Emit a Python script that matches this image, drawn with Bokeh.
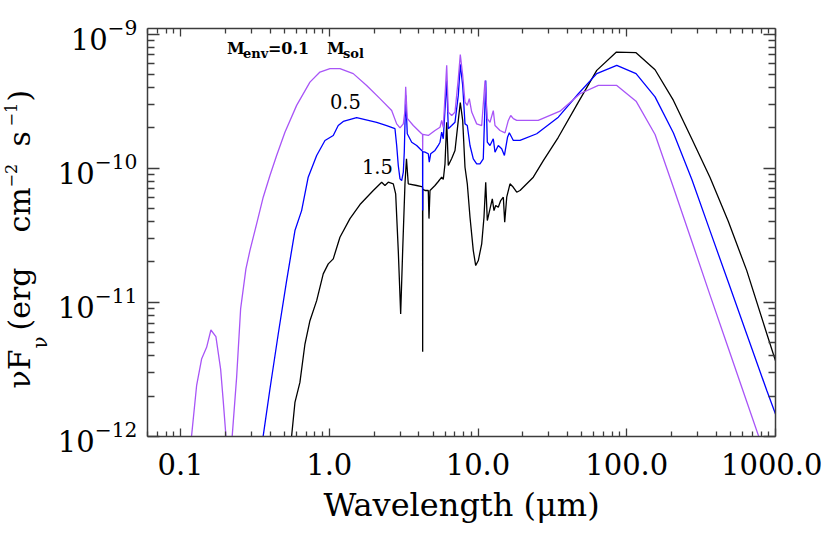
import math
from bokeh.plotting import figure
from bokeh.layouts import row
from bokeh.models import (LogAxis, FixedTicker, PrintfTickFormatter, CustomJSTickFormatter,
                          LogTickFormatter, Label, Range1d)
from bokeh.embed import file_html
from bokeh.resources import INLINE

# ---------------- data ----------------
# wavelength in micron, nu*F_nu in erg cm^-2 s^-1
purple_wl = [0.115, 0.1187, 0.1283, 0.1386, 0.1498, 0.1601, 0.1730, 0.1861, 0.1937, 0.2020,
             0.208, 0.217, 0.2227, 0.2384, 0.2536, 0.2753, 0.2928, 0.3249, 0.3598, 0.3993,
             0.4428, 0.5036, 0.6036, 0.7416, 0.8659, 1.011, 1.180, 1.450, 1.784, 2.193,
             2.628, 2.840, 2.989, 3.147, 3.229, 3.265, 3.346, 3.672, 4.182, 4.240,
             4.247, 4.255, 4.632, 5.138, 5.553, 5.701, 5.843, 6.160, 6.314, 6.655,
             7.004, 7.371, 7.603, 7.890, 8.177, 8.473, 8.741, 9.071, 9.800, 10.59,
             11.15, 11.55, 12.04, 12.67, 13.01, 14.06, 15.19, 15.99, 16.60, 17.28,
             18.21, 19.16, 25.4, 35.6, 48.5, 64.4, 85.7, 115.5, 155.0, 206.0,
             274.0, 363.0, 482.0, 641.0, 874.0, 1000.0]
purple_f = [7.0e-13, 1.01e-12, 2.39e-12, 3.78e-12, 4.62e-12, 6.22e-12, 5.55e-12, 3.18e-12, 1.85e-12, 1.01e-12,
            6.0e-13, 6.0e-13, 1.01e-12, 2.76e-12, 8.93e-12, 1.775e-11, 2.43e-11, 3.85e-11, 6.08e-11, 8.82e-11,
            1.244e-10, 1.856e-10, 2.94e-10, 4.38e-10, 5.21e-10, 5.52e-10, 5.52e-10, 5.07e-10, 4.14e-10, 3.30e-10,
            2.69e-10, 2.14e-10, 2.00e-10, 2.14e-10, 2.69e-10, 4.04e-10, 2.35e-10, 2.08e-10, 1.806e-10, 1.79e-10,
            1.36e-10, 1.79e-10, 1.754e-10, 1.91e-10, 2.02e-10, 2.27e-10, 2.02e-10, 5.84e-10, 2.62e-10, 2.47e-10,
            2.62e-10, 4.65e-10, 7.02e-10, 4.92e-10, 3.11e-10, 2.94e-10, 3.30e-10, 2.62e-10, 2.14e-10, 2.08e-10,
            4.51e-10, 2.34e-10, 2.20e-10, 2.69e-10, 2.08e-10, 1.91e-10, 1.836e-10, 2.27e-10, 2.47e-10, 2.34e-10,
            2.27e-10, 2.27e-10, 2.27e-10, 2.66e-10, 3.59e-10, 4.14e-10, 4.14e-10, 3.16e-10, 1.784e-10, 7.18e-11,
            2.84e-11, 1.132e-11, 4.55e-12, 1.815e-12, 6.70e-13, 4.44e-13]

blue_wl = [0.342, 0.3598, 0.3993, 0.4540, 0.517, 0.588, 0.652, 0.722, 0.823, 0.936,
           1.064, 1.149, 1.242, 1.528, 2.084, 2.432, 2.766, 2.840, 2.911, 2.989,
           3.069, 3.147, 3.194, 3.265, 3.346, 3.583, 3.870, 4.182, 4.240, 4.247,
           4.255, 4.402, 4.632, 4.704, 4.807, 5.138, 5.408, 5.553, 5.701, 5.843,
           6.160, 6.314, 6.655, 7.004, 7.371, 7.603, 7.890, 8.177, 8.473, 8.836,
           9.298, 9.800, 10.31, 10.85, 11.27, 11.55, 12.04, 12.67, 13.01, 13.69,
           14.43, 15.05, 15.79, 16.24, 17.28, 19.16, 24.82, 34.67, 47.27, 62.85,
           85.67, 115.5, 155.0, 206.0, 274.0, 363.0, 482.0, 641.0, 874.0, 1000.0]
blue_f = [7.0e-13, 1.01e-12, 2.26e-12, 5.81e-12, 1.452e-11, 3.43e-11, 4.83e-11, 8.57e-11, 1.244e-10, 1.61e-10,
          1.754e-10, 2.08e-10, 2.23e-10, 2.38e-10, 2.20e-10, 2.08e-10, 1.97e-10, 1.477e-10, 1.047e-10, 8.33e-11,
          8.09e-11, 9.33e-11, 1.316e-10, 3.49e-10, 1.806e-10, 1.563e-10, 1.477e-10, 1.356e-10, 1.34e-10, 4.83e-11,
          1.33e-10, 1.316e-10, 1.281e-10, 1.109e-10, 1.281e-10, 1.356e-10, 1.477e-10, 1.563e-10, 1.856e-10, 1.657e-10,
          4.51e-10, 1.97e-10, 2.08e-10, 2.20e-10, 3.49e-10, 5.94e-10, 4.14e-10, 2.14e-10, 2.08e-10, 1.477e-10,
          1.175e-10, 1.078e-10, 1.078e-10, 1.175e-10, 4.51e-10, 1.563e-10, 1.477e-10, 1.657e-10, 1.316e-10, 1.477e-10,
          1.396e-10, 1.244e-10, 1.70e-10, 1.836e-10, 1.61e-10, 1.61e-10, 1.806e-10, 2.40e-10, 3.59e-10, 5.07e-10,
          5.84e-10, 5.07e-10, 3.40e-10, 1.83e-10, 8.24e-11, 3.41e-11, 1.41e-11, 5.79e-12, 2.20e-12, 1.47e-12]

black_wl = [0.540, 0.5586, 0.588, 0.635, 0.6865, 0.7416, 0.823, 0.911, 0.985, 1.064,
            1.180, 1.378, 1.609, 1.977, 2.251, 2.369, 2.494, 2.695, 2.796, 2.911,
            3.021, 3.116, 3.229, 3.305, 3.398, 3.870, 4.182, 4.240, 4.247, 4.255,
            4.402, 4.632, 4.683, 4.756, 5.138, 5.408, 5.701, 5.843, 6.000, 6.160,
            6.314, 6.655, 7.004, 7.371, 7.603, 7.890, 8.177, 8.473, 8.836, 9.298,
            9.650, 10.05, 10.59, 10.97, 11.27, 11.55, 12.04, 12.48, 12.81, 13.15,
            13.69, 14.21, 14.80, 15.12, 15.60, 16.41, 17.28, 18.21, 19.16, 23.54,
            27.49, 34.67, 47.27, 62.85, 85.25, 115.5, 155.0, 206.0, 274.0, 363.0,
            482.0, 641.0, 874.0, 1000.0]
black_f = [7.0e-13, 1.01e-12, 1.794e-12, 2.53e-12, 4.89e-12, 7.30e-12, 1.03e-11, 1.63e-11, 1.935e-11, 2.11e-11,
           3.06e-11, 4.21e-11, 5.36e-11, 6.82e-11, 7.86e-11, 7.43e-11, 7.86e-11, 7.65e-11, 6.44e-11, 2.43e-11,
           8.19e-12, 2.43e-11, 7.65e-11, 1.175e-10, 7.65e-11, 7.43e-11, 7.30e-11, 7.2e-11, 4.29e-12, 7.0e-11,
           6.82e-11, 6.82e-11, 4.21e-11, 6.82e-11, 7.43e-11, 7.96e-11, 8.57e-11, 8.24e-11, 1.078e-10, 2.2e-10,
           1.047e-10, 1.18e-10, 1.356e-10, 2.27e-10, 3.08e-10, 2.27e-10, 1.017e-10, 7.65e-11, 4.31e-11, 2.43e-11,
           1.88e-11, 2.05e-11, 2.73e-11, 4.31e-11, 7.86e-11, 4.07e-11, 4.98e-11, 5.91e-11, 4.83e-11, 5.27e-11,
           5.12e-11, 5.74e-11, 6.08e-11, 3.95e-11, 6.08e-11, 7.65e-11, 7.21e-11, 6.62e-11, 6.82e-11, 8.57e-11,
           1.14e-10, 1.70e-10, 3.11e-10, 5.36e-10, 7.34e-10, 7.26e-10, 5.42e-10, 3.20e-10, 1.65e-10, 8.52e-11,
           4.00e-11, 1.724e-11, 5.84e-12, 3.67e-12]

x_major = [0.1, 1.0, 10.0, 100.0, 1000.0]
y_major = [1e-12, 1e-11, 1e-10, 1e-9]
curve_labels = ["0.5", "1.5"]

FONT = "DejaVu Serif"
AXC = "#3c3c3c"
TW = 50  # width of the strip holding the rotated y title
FH, BT, BB = 408, 28, 109

x_minor = [m * 10.0 ** e for e in range(-2, 3) for m in range(2, 10) if 0.06 <= m * 10.0 ** e <= 1000]
y_minor = [m * 10.0 ** e for e in range(-12, -9) for m in range(2, 10)]

p = figure(x_axis_type="log", y_axis_type="log",
           x_range=Range1d(0.06, 1000), y_range=Range1d(1e-12, 1.1e-9),
           frame_width=628, frame_height=FH,
           min_border_left=147 - TW, min_border_right=47, min_border_top=BT, min_border_bottom=BB,
           output_backend="svg", toolbar_location=None)
p.xgrid.visible = False
p.ygrid.visible = False
p.outline_line_color = None
p.background_fill_color = "white"
p.border_fill_color = "white"

xt = FixedTicker(ticks=x_major, minor_ticks=x_minor)
yt = FixedTicker(ticks=y_major, minor_ticks=y_minor)


def style(ax, horizontal):
    ax.axis_line_color = AXC
    ax.axis_line_width = 1.5
    ax.major_tick_line_color = AXC
    ax.minor_tick_line_color = AXC
    ax.major_tick_line_width = 1.3
    ax.minor_tick_line_width = 1.3
    ax.major_tick_out = 0
    ax.minor_tick_out = 0
    if horizontal:
        ax.major_tick_in = 8
        ax.minor_tick_in = 5
    else:
        ax.major_tick_in = 12
        ax.minor_tick_in = 7


bx = p.xaxis[0]
bx.ticker = xt
bx.formatter = PrintfTickFormatter(format="%.1f")
style(bx, True)
bx.major_label_text_font = FONT
bx.major_label_text_font_size = "29px"
bx.major_label_text_color = "black"
bx.major_label_standoff = 16
bx.axis_label = "Wavelength (μm)"
bx.axis_label_text_font = FONT
bx.axis_label_text_font_size = "32px"
bx.axis_label_text_font_style = "normal"
bx.axis_label_text_color = "black"
bx.axis_label_standoff = 8

ly = p.yaxis[0]
ly.ticker = yt
ly.formatter = LogTickFormatter()
style(ly, False)
ly.major_label_text_font = FONT
ly.major_label_text_font_size = "29px"
ly.major_label_text_color = "black"
ly.major_label_standoff = 10

blank = CustomJSTickFormatter(code="return ''")
top = LogAxis(ticker=xt, formatter=blank, major_label_text_font_size="0px", major_label_standoff=0)
style(top, True)
right = LogAxis(ticker=yt, formatter=blank, major_label_text_font_size="0px", major_label_standoff=0)
style(right, False)
p.add_layout(top, "above")
p.add_layout(right, "right")

# curves
p.line(black_wl, black_f, line_color="black", line_width=1.3)
p.line(blue_wl, blue_f, line_color="#0000ff", line_width=1.3)
p.line(purple_wl, purple_f, line_color="#a855f7", line_width=1.3)


def lab(fig, x, y, text, size, xo=0, yo=0, bold=False, angle=0.0, units="data"):
    fig.add_layout(Label(x=x, y=y, x_units=units, y_units=units, text=text,
                         x_offset=xo, y_offset=yo, angle=angle,
                         text_font=FONT, text_font_size=size, text_color="black",
                         text_font_style="bold" if bold else "normal",
                         text_align="left", text_baseline="alphabetic"))


lab(p, 1.011, 2.79e-10, curve_labels[0], "19.5px", 0, 7)
lab(p, 1.659, 8.97e-11, curve_labels[1], "19.5px", 0, 8)

mx, my = 0.2051, 7.06e-10
lab(p, mx, my, "M", "16px", 0, 6, True)
lab(p, mx, my, "env", "13px", 16, 1, True)
lab(p, mx, my, "=0.1", "16px", 41, 6, True)
lab(p, mx, my, "M", "16px", 100, 6, True)
lab(p, mx, my, "sol", "13px", 116, 1, True)

# narrow strip on the left carrying the rotated y-axis title
t = figure(frame_width=TW, frame_height=FH, x_range=Range1d(0, 1), y_range=Range1d(0, 1),
           min_border_left=0, min_border_right=0, min_border_top=BT, min_border_bottom=BB,
           output_backend="svg", toolbar_location=None,
           x_axis_location=None, y_axis_location=None)
t.xgrid.visible = False
t.ygrid.visible = False
t.outline_line_color = None
t.background_fill_color = "white"
t.border_fill_color = "white"

sx0, sy0 = 33, 48   # frame-relative screen position of the title start
R = math.pi / 2
lab(t, sx0, sy0, "νF", "30px", -14, 0, angle=R, units="screen")
lab(t, sx0, sy0, "ν", "20px", 6, 40, angle=R, units="screen")
lab(t, sx0, sy0, "(erg", "30px", -14, 58, angle=R, units="screen")
lab(t, sx0, sy0, "cm", "30px", -14, 156, angle=R, units="screen")
lab(t, sx0, sy0, "−2", "16px", -23, 201, angle=R, units="screen")
lab(t, sx0, sy0, "s", "30px", -14, 242, angle=R, units="screen")
lab(t, sx0, sy0, "−1", "16px", -23, 262, angle=R, units="screen")
lab(t, sx0, sy0, ")", "30px", -14, 287, angle=R, units="screen")

layout = row(t, p, spacing=0)
open("out.html", "w").write(file_html(layout, INLINE))
